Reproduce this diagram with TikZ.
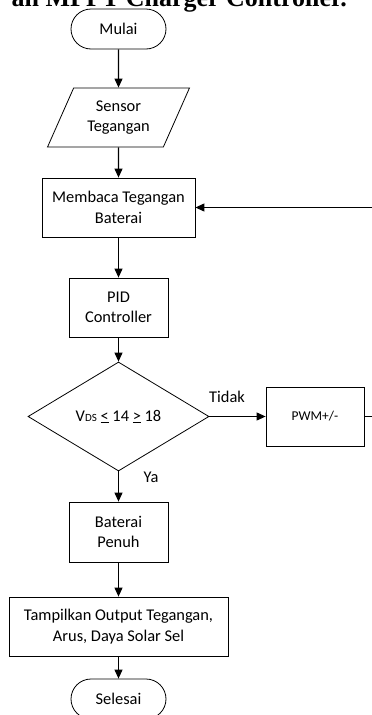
\documentclass[tikz,border=0pt]{standalone}
\usepackage{fontspec}
\setmainfont{Carlito}
\newfontfamily\titlefont{Liberation Serif}
\usetikzlibrary{shapes.geometric,shapes.misc,arrows.meta}
\begin{document}
\begin{tikzpicture}[x=1pt,y=-1pt,
  base/.style={draw, line width=0.8pt, inner sep=2pt, align=center,
    font=\fontsize{16.4}{20.5}\selectfont},
  term/.style={base, rounded rectangle, minimum width=99pt, minimum height=40pt},
  proc/.style={base, rectangle},
  io/.style={base, trapezium, trapezium left angle=63, trapezium right angle=117,
    trapezium stretches=true, minimum width=142pt, minimum height=59pt},
  decision/.style={base, diamond, aspect=1.66, inner sep=1pt,
    minimum width=181pt, minimum height=109pt},
  flow/.style={line width=1.1pt, -{Triangle[length=9pt,width=8pt]}},
  lbl/.style={font=\fontsize{16.4}{20}\selectfont, inner sep=0pt}
]
\useasboundingbox (0,0) rectangle (372,715);
\clip (0,0) rectangle (372,715);

% caption line above the chart (only its lower part lies on the page)
\node[anchor=base east, inner sep=0pt,
  font=\titlefont\bfseries\fontsize{26}{30}\selectfont] (title) at (347,6.5)
  {an MPPT Charger Controller.};

% flowchart steps
\node[term] (mulai) at (118.5,29) {Mulai};
\node[io] (sensor) at (118.5,117.5) {Sensor\\Tegangan};
\node[proc, minimum width=153pt, minimum height=59pt] (baca) at (118.5,207.5)
  {Membaca Tegangan\\Baterai};
\node[proc, minimum width=99pt, minimum height=59pt] (pid) at (118.5,307.5)
  {PID\\Controller};
\node[decision] (cek) at (118.5,416.5)
  {V{\fontsize{11}{11}\selectfont DS} \underline{<} 14 \underline{>} 18};
\node[proc, minimum width=98pt, minimum height=59pt,
  font=\fontsize{13.5}{16}\selectfont] (pwm) at (315,416.5) {PWM+/-};
\node[proc, minimum width=99pt, minimum height=60pt] (penuh) at (118.5,532)
  {Baterai\\Penuh};
\node[proc, minimum width=219pt, minimum height=59pt] (tampil) at (118.5,626.5)
  {Tampilkan Output Tegangan,\\Arus, Daya Solar Sel};
\node[term] (selesai) at (118.5,699) {Selesai};

% branch labels
\node[lbl] (tidak) at (227,397) {Tidak};
\node[lbl] (ya) at (151,477) {Ya};

% connectors
\draw[flow] (mulai.south) -- (sensor.north);
\draw[flow] (sensor.south) -- (baca.north);
\draw[flow] (baca.south) -- (pid.north);
\draw[flow] (pid.south) -- (cek.north);
\draw[flow] (cek.east) -- (pwm.west);
\draw[flow] (cek.south) -- (penuh.north);
\draw[flow] (penuh.south) -- (tampil.north);
\draw[flow] (tampil.south) -- (selesai.north);
\draw[flow] (pwm.east) -- ++(24,0) |- (baca.east);
\end{tikzpicture}
\end{document}
